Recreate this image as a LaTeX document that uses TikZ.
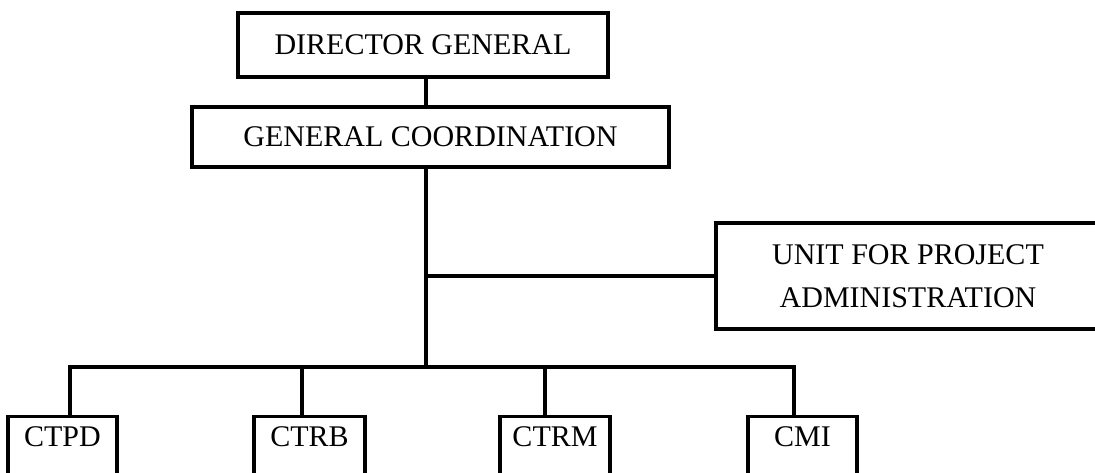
\documentclass[tikz,border=0pt]{standalone}
\usepackage{fontspec}
\setmainfont{Liberation Serif}
\begin{document}
\begin{tikzpicture}[x=1pt,y=-1pt,
  box/.style={draw, line width=3.3pt, inner sep=0pt, font=\fontsize{30}{43}\selectfont},
  oneline/.style={box, text height=20pt, text depth=0pt},
  bbox/.style={box, anchor=north, text height=30pt, text depth=60pt, minimum height=0pt},
  conn/.style={line width=3.5pt}]
\useasboundingbox (0,0) rectangle (1095,473);
\clip (0,0) rectangle (1095,473);
\node[oneline, minimum width=370pt, minimum height=64pt] (dg) at (423,45) {DIRECTOR GENERAL};
\node[oneline, minimum width=477pt, minimum height=60pt] (gc) at (430.5,137) {GENERAL COORDINATION};
\node[box, minimum width=384pt, minimum height=106pt, align=center] (upa) at (908,276) {UNIT FOR PROJECT\\ADMINISTRATION};
\node[bbox, minimum width=109pt] (ctpd) at (62.5,415) {CTPD};
\node[bbox, minimum width=111pt] (ctrb) at (309.5,415) {CTRB};
\node[bbox, minimum width=110pt] (ctrm) at (555,415) {CTRM};
\node[bbox, minimum width=109pt] (cmi) at (802.5,415) {CMI};
\coordinate (b1) at (70,367);
\coordinate (b2) at (302,367);
\coordinate (b3) at (545,367);
\coordinate (b4) at (794,367);
\coordinate (t) at (426,367);
\draw[conn] (t |- dg.south) -- (t |- gc.north);
\draw[conn] (t |- gc.south) -- (t);
\draw[conn] (t |- upa.west) -- (upa.west);
\draw[conn] (b1 |- ctpd.north) -- (b1) -- (b4) -- (b4 |- cmi.north);
\draw[conn] (b2) -- (b2 |- ctrb.north);
\draw[conn] (b3) -- (b3 |- ctrm.north);
\end{tikzpicture}
\end{document}
